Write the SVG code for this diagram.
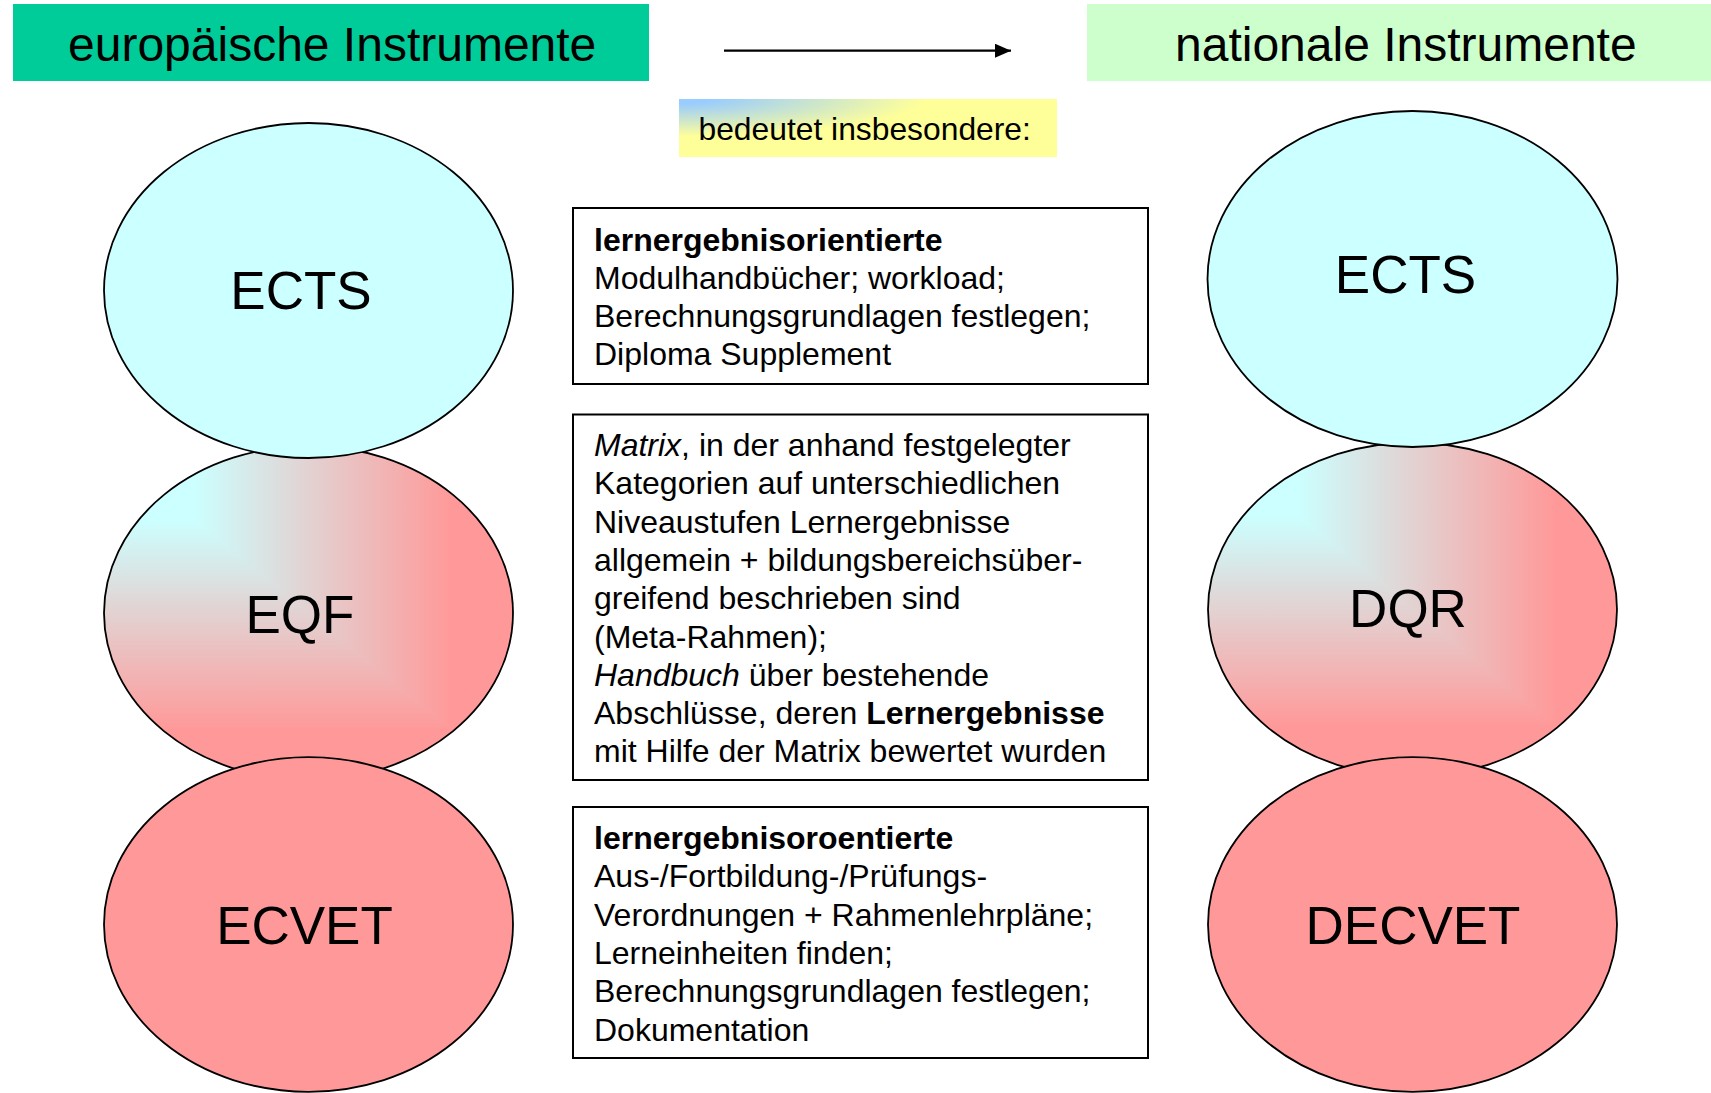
<svg xmlns="http://www.w3.org/2000/svg" width="1711" height="1093" viewBox="0 0 1711 1093">
<style>
text{font-family:"Liberation Sans",Arial,sans-serif;fill:#000}
.hdr{font-size:48px}
.big{font-size:53px;text-anchor:middle}
.box{fill:#fff;stroke:#000;stroke-width:2}
.bt{font-size:32px}
.ell{stroke:#000;stroke-width:1.8}
.outl{fill:none;stroke:#000;stroke-width:1.8}
</style>
<defs>
<linearGradient id="gH" x1="0" y1="0" x2="1" y2="0">
<stop offset="0.22" stop-color="#CCFFFF"/>
<stop offset="0.85" stop-color="#FF9999"/>
</linearGradient>
<linearGradient id="gV" x1="0" y1="0" x2="0" y2="1">
<stop offset="0.22" stop-color="#CCFFFF"/>
<stop offset="0.85" stop-color="#FF9999"/>
</linearGradient>
<clipPath id="cEQF"><polygon points="104,446 513,780 104,780"/></clipPath>
<clipPath id="cDQR"><polygon points="1208,442.5 1617,776.5 1208,776.5"/></clipPath>
<radialGradient id="gLeg" gradientUnits="objectBoundingBox" cx="0" cy="0" r="1" fx="0" fy="0">
<stop offset="0.08" stop-color="#99CCFF"/>
<stop offset="0.65" stop-color="#FFFF99"/>
</radialGradient>
<marker id="ah" viewBox="0 0 16 14" refX="16" refY="7" markerWidth="16" markerHeight="14" markerUnits="userSpaceOnUse" orient="auto">
<path d="M0,0 L16,7 L0,14 Z" fill="#000"/>
</marker>
</defs>

<g id="hdr-eu">
<rect x="13" y="4" width="636" height="77" fill="#00CC99"/>
<text class="hdr" x="68" y="61">europäische Instrumente</text>
</g>
<g id="hdr-nat">
<rect x="1087" y="4" width="624" height="77" fill="#CCFFCC"/>
<text class="hdr" x="1175" y="61">nationale Instrumente</text>
</g>
<g id="legend">
<rect x="679" y="99" width="378" height="58" fill="url(#gLeg)"/>
<text x="698.5" y="140" style="font-size:31.8px">bedeutet insbesondere:</text>
</g>

<g id="eqf">
<ellipse cx="308.5" cy="613" rx="204.5" ry="167" fill="url(#gH)"/>
<ellipse cx="308.5" cy="613" rx="204.5" ry="167" fill="url(#gV)" clip-path="url(#cEQF)"/>
<ellipse class="outl" cx="308.5" cy="613" rx="204.5" ry="167"/>
<text class="big" x="300" y="633">EQF</text>
</g>
<g id="ects-eu">
<ellipse class="ell" cx="308.5" cy="290.5" rx="204.5" ry="167.5" fill="#CCFFFF"/>
<text class="big" x="301" y="309">ECTS</text>
</g>
<g id="ecvet">
<ellipse class="ell" cx="308.5" cy="924.5" rx="204.5" ry="167.3" fill="#FF9999"/>
<text class="big" x="304.5" y="944">ECVET</text>
</g>

<g id="dqr">
<ellipse cx="1412.5" cy="609.5" rx="204.5" ry="167" fill="url(#gH)"/>
<ellipse cx="1412.5" cy="609.5" rx="204.5" ry="167" fill="url(#gV)" clip-path="url(#cDQR)"/>
<ellipse class="outl" cx="1412.5" cy="609.5" rx="204.5" ry="167"/>
<text class="big" x="1408" y="627">DQR</text>
</g>
<g id="ects-nat">
<ellipse class="ell" cx="1412.5" cy="279" rx="205" ry="168" fill="#CCFFFF"/>
<text class="big" x="1405.5" y="293">ECTS</text>
</g>
<g id="decvet">
<ellipse class="ell" cx="1412.5" cy="924.5" rx="204.5" ry="167.3" fill="#FF9999"/>
<text class="big" x="1413" y="944">DECVET</text>
</g>

<g id="box-ects">
<rect class="box" x="573" y="208" width="575" height="176"/>
<text class="bt" x="594" y="250.5"><tspan font-weight="bold">lernergebnisorientierte</tspan><tspan x="594" dy="38.3">Modulhandbücher; workload;</tspan><tspan x="594" dy="38.3">Berechnungsgrundlagen festlegen;</tspan><tspan x="594" dy="38.3">Diploma Supplement</tspan></text>
</g>
<g id="box-qf">
<rect class="box" x="573" y="414.5" width="575" height="365.5"/>
<text class="bt" x="594" y="456"><tspan font-style="italic">Matrix</tspan>, in der anhand festgelegter<tspan x="594" dy="38.3">Kategorien auf unterschiedlichen</tspan><tspan x="594" dy="38.3">Niveaustufen Lernergebnisse</tspan><tspan x="594" dy="38.3">allgemein + bildungsbereichsüber-</tspan><tspan x="594" dy="38.3">greifend beschrieben sind</tspan><tspan x="594" dy="38.3">(Meta-Rahmen);</tspan><tspan x="594" dy="38.3" font-style="italic">Handbuch</tspan> über bestehende<tspan x="594" dy="38.3">Abschlüsse, deren </tspan><tspan font-weight="bold">Lernergebnisse</tspan><tspan x="594" dy="38.3">mit Hilfe der Matrix bewertet wurden</tspan></text>
</g>
<g id="box-ecvet">
<rect class="box" x="573" y="807" width="575" height="251"/>
<text class="bt" x="594" y="849"><tspan font-weight="bold">lernergebnisoroentierte</tspan><tspan x="594" dy="38.3">Aus-/Fortbildung-/Prüfungs-</tspan><tspan x="594" dy="38.3">Verordnungen + Rahmenlehrpläne;</tspan><tspan x="594" dy="38.3">Lerneinheiten finden;</tspan><tspan x="594" dy="38.3">Berechnungsgrundlagen festlegen;</tspan><tspan x="594" dy="38.3">Dokumentation</tspan></text>
</g>

<g id="connectors">
<line x1="724" y1="50.7" x2="1011" y2="50.7" stroke="#000" stroke-width="2.2" marker-end="url(#ah)"/>
</g>
</svg>
